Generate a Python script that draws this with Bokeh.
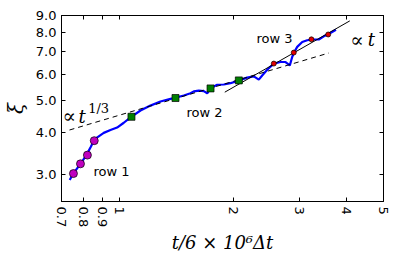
from bokeh.plotting import figure
from bokeh.models import Range1d, FixedTicker, LogAxis, Label
from bokeh.embed import file_html
from bokeh.resources import INLINE

# ---- data ----
t_curve = [0.736, 0.752, 0.786, 0.815, 0.836, 0.853, 0.871, 0.906, 0.944, 0.983,
           1.024, 1.067, 1.134, 1.205, 1.281, 1.362, 1.404, 1.477, 1.539, 1.570,
           1.619, 1.669, 1.704, 1.739, 1.811, 1.886, 1.964, 2.069, 2.175, 2.265,
           2.335, 2.384, 2.458, 2.559, 2.666, 2.749, 2.822, 2.863, 2.891, 2.952,
           3.044, 3.138, 3.235, 3.368, 3.473, 3.559, 3.740]
xi_curve = [2.88, 3.01, 3.22, 3.42, 3.61, 3.78, 3.87, 3.99, 4.07, 4.14,
            4.28, 4.44, 4.66, 4.82, 4.96, 5.05, 5.09, 5.17, 5.25, 5.32,
            5.35, 5.33, 5.25, 5.44, 5.57, 5.58, 5.63, 5.74, 5.85, 5.90,
            5.77, 5.94, 6.18, 6.45, 6.52, 6.52, 6.37, 6.75, 6.94, 7.24,
            7.49, 7.58, 7.62, 7.62, 7.79, 7.89, 8.15]

row1_t = [0.753, 0.786, 0.820, 0.855]
row1_xi = [3.01, 3.22, 3.42, 3.78]
row2_t = [1.073, 1.404, 1.739, 2.067]
row2_xi = [4.46, 5.08, 5.43, 5.74]
row3_t = [2.559, 2.891, 3.220, 3.567]
row3_xi = [6.45, 6.96, 7.63, 7.89]

third_t = [0.735, 3.58]      # dashed guide  ~ t^(1/3)
third_xi = [4.07, 6.94]
lin_t = [1.897, 4.07]        # solid guide  ~ t
lin_xi = [5.29, 8.67]

x_ticks = [0.7, 0.8, 0.9, 1, 2, 3, 4, 5]
x_tick_labels = ["0.7", "0.8", "0.9", "1", "2", "3", "4", "5"]
y_ticks = [3, 4, 5, 6, 7, 8, 9]
y_tick_labels = ["3.0", "4.0", "5.0", "6.0", "7.0", "8.0", "9.0"]

SANS = "DejaVu Sans"
SERIF = "DejaVu Serif"

p = figure(width=391, height=258, x_axis_type="log", y_axis_type="log",
           x_range=Range1d(0.7, 5.0), y_range=Range1d(2.48, 9.0),
           output_backend="svg", toolbar_location=None,
           min_border_left=61, min_border_right=8, min_border_top=15,
           min_border_bottom=57)
p.xgrid.visible = False
p.ygrid.visible = False
p.outline_line_color = "black"
p.outline_line_width = 1
p.background_fill_color = "white"
p.border_fill_color = "white"

xa = p.xaxis[0]
xa.ticker = FixedTicker(ticks=x_ticks, minor_ticks=[])
xa.major_label_overrides = {v: s for v, s in zip(x_ticks, x_tick_labels)}
xa.major_label_orientation = "vertical"
xa.axis_label = "t/6 × 10⁶Δt"
xa.axis_label_text_font = SERIF
xa.axis_label_text_font_style = "italic"
xa.axis_label_text_font_size = "18px"
xa.axis_label_standoff = 2

ya = p.yaxis[0]
ya.ticker = FixedTicker(ticks=y_ticks, minor_ticks=[])
ya.major_label_overrides = {v: s for v, s in zip(y_ticks, y_tick_labels)}
ya.axis_label = "ξ"
ya.axis_label_text_font = SERIF
ya.axis_label_text_font_style = "italic"
ya.axis_label_text_font_size = "20px"
ya.axis_label_standoff = 5

for ax in (xa, ya):
    ax.major_label_text_font = SANS
    ax.major_label_text_font_size = "13px"
    ax.major_label_text_color = "black"
    ax.major_label_standoff = 5
    ax.axis_line_color = "black"
    ax.major_tick_line_color = "black"
    ax.major_tick_in = 4
    ax.major_tick_out = 0
    ax.minor_tick_line_color = None
    ax.axis_label_text_color = "black"

# frame ticks on the top and right sides (no labels there)
top = LogAxis(ticker=FixedTicker(ticks=x_ticks, minor_ticks=[]),
              major_label_overrides={v: "" for v in x_ticks},
              major_label_text_font_size="0px", major_label_standoff=0,
              major_tick_in=4, major_tick_out=0, minor_tick_line_color=None,
              axis_line_color="black", major_tick_line_color="black")
right = LogAxis(ticker=FixedTicker(ticks=y_ticks, minor_ticks=[]),
                major_label_overrides={v: "" for v in y_ticks},
                major_label_text_font_size="0px", major_label_standoff=0,
                major_tick_in=4, major_tick_out=0, minor_tick_line_color=None,
                axis_line_color="black", major_tick_line_color="black")
p.add_layout(top, "above")
p.add_layout(right, "right")

p.line(t_curve, xi_curve, line_color="#0000ff", line_width=2.2)
p.line(third_t, third_xi, line_color="black", line_width=1, line_dash="5 4")
p.line(lin_t, lin_xi, line_color="black", line_width=1)

p.scatter(row1_t, row1_xi, marker="circle", size=8, fill_color="#bf00bf",
          line_color="black", line_width=0.7)
p.scatter(row2_t, row2_xi, marker="square", size=7, fill_color="#008000",
          line_color="black", line_width=0.7)
p.scatter(row3_t, row3_xi, marker="circle", size=5, fill_color="#e00000",
          line_color="black", line_width=0.7)

def lab(x, y, text, font=SANS, size="13px", style="normal", baseline="middle"):
    p.add_layout(Label(x=x, y=y, text=text, text_font=font, text_font_size=size,
                       text_font_style=style, text_align="left",
                       text_baseline=baseline, text_color="black"))

lab(0.851, 3.05, "row 1")
lab(1.502, 4.585, "row 2")
lab(2.303, 7.67, "row 3")

lab(4.08, 7.61, "∝", font=SERIF, size="20px", baseline="alphabetic")
lab(4.54, 7.61, "t", font=SERIF, size="18px", style="italic", baseline="alphabetic")
lab(0.704, 4.47, "∝", font=SERIF, size="20px", baseline="alphabetic")
lab(0.776, 4.47, "t", font=SERIF, size="18px", style="italic", baseline="alphabetic")
lab(0.824, 4.74, "1/3", font=SERIF, size="13px", baseline="alphabetic")

open("out.html", "w").write(file_html(p, INLINE))
